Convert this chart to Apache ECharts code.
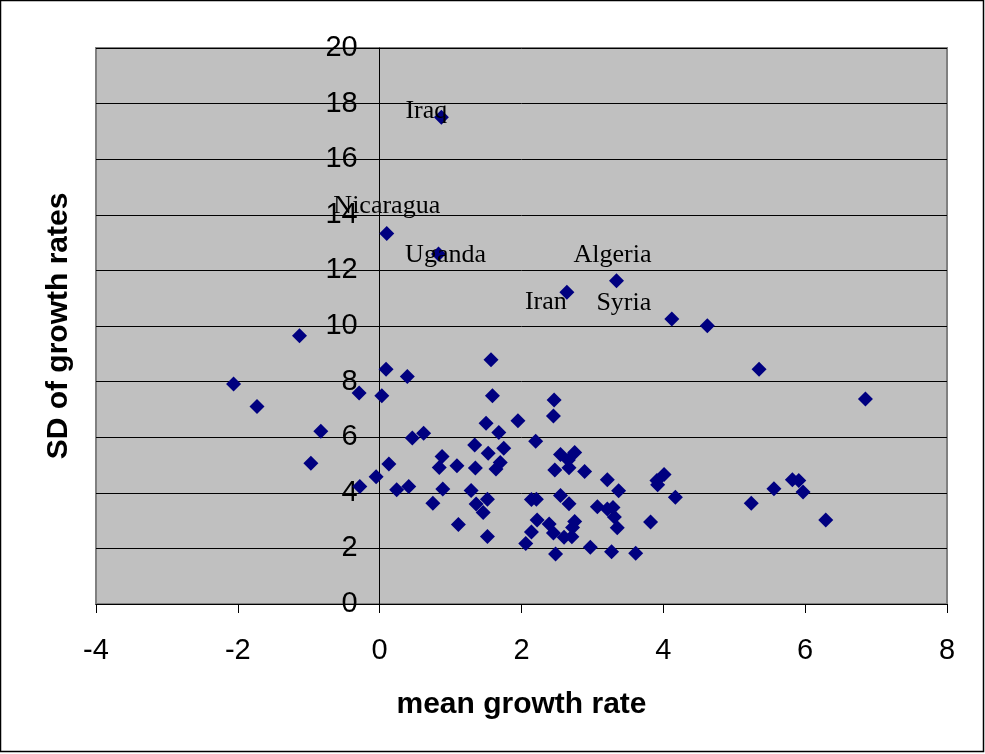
<!DOCTYPE html>
<html>
<head>
<meta charset="utf-8">
<script src="https://cdn.jsdelivr.net/npm/echarts@6/dist/echarts.min.js"></script>
<style>html,body{margin:0;padding:0;background:#fff}#c{width:985px;height:754px}</style>
</head>
<body>
<div id="c"></div>
<script>
// Data
const meanGrowth = [0.87,0.10,0.83,2.64,3.34,4.12,
 -2.06,-1.73,-1.13,-0.83,-0.97,-0.29,-0.28,-0.05,0.09,0.03,0.13,0.24,0.41,0.39,0.46,0.62,0.75,0.88,0.84,0.89,
 1.09,1.11,1.34,1.35,1.29,1.36,1.46,1.52,1.52,1.57,1.59,1.50,1.53,1.68,1.75,1.70,1.64,1.95,2.20,2.46,2.45,
 2.55,2.75,2.66,2.67,2.47,2.89,3.21,3.37,3.91,4.01,3.92,4.17,2.55,2.67,3.07,3.21,3.29,3.31,3.35,3.82,2.75,2.72,
 2.14,2.21,2.22,2.14,2.06,2.39,2.45,2.60,2.71,2.48,2.97,3.27,3.61,4.62,5.35,6.85,5.24,5.56,5.82,5.91,5.97,6.29];
const sdGrowth = [17.51,13.33,12.59,11.21,11.63,10.25,
 7.91,7.10,9.65,6.21,5.06,7.59,4.23,4.58,8.44,7.49,5.04,4.11,4.23,8.18,5.97,6.14,3.62,5.31,4.91,4.14,
 4.97,2.86,5.72,4.89,4.08,3.60,3.29,3.77,2.43,8.79,7.49,6.50,5.42,6.17,5.60,5.09,4.86,6.59,5.85,7.34,6.76,
 5.38,5.45,5.18,4.90,4.82,4.77,4.47,4.07,4.44,4.66,4.29,3.84,3.90,3.61,3.50,3.42,3.47,3.13,2.74,2.95,2.97,2.75,
 3.76,3.77,3.02,2.59,2.18,2.88,2.55,2.40,2.42,1.80,2.04,1.88,1.83,10.01,8.44,7.37,3.62,4.15,4.47,4.44,4.03,3.02];
const countryNames = ['Iraq','Nicaragua','Uganda','Iran','Algeria','Syria'];
const xTicks = {min:-4, max:8, interval:2};
const yTicks = {min:0, max:20, interval:2};

// layout (style)
const gridLeft = 96, gridRight = 38, W = 985;
const plotW = W - gridLeft - gridRight;
// y axis crosses x at 0: shift it from the grid's left edge to x = 0
const yAxisShift = -plotW * (0 - xTicks.min) / (xTicks.max - xTicks.min);

const labelOffsets = {Iraq:[-15,-6], Nicaragua:[0,-27], Uganda:[7,1], Iran:[-21,10], Algeria:[-4,-26], Syria:[-48,-16]};

const data = meanGrowth.map((x,i)=>{
  const nm = countryNames[i] || '';
  const item = {value:[x, sdGrowth[i]], name:nm};
  if (nm) item.label = {show:true, position:'inside', offset:labelOffsets[nm], formatter:'{b}',
    fontFamily:'Liberation Serif', fontSize:26, color:'#000'};
  return item;
});

const chart = echarts.init(document.getElementById('c'), null, {renderer:'canvas'});
chart.setOption({
  animation:false,
  backgroundColor:'#fff',
  grid:{left:gridLeft, right:gridRight, top:48, bottom:150, containLabel:false, outerBoundsMode:'none',
    show:true, backgroundColor:'#C0C0C0', borderColor:'#808080', borderWidth:2},
  xAxis:{type:'value', min:xTicks.min, max:xTicks.max, interval:xTicks.interval,
    name:'mean growth rate', nameLocation:'middle', nameGap:86,
    nameTextStyle:{fontFamily:'Liberation Sans', fontWeight:'bold', fontSize:30, color:'#000'},
    axisLine:{show:true, onZero:false, lineStyle:{color:'#000', width:1}},
    axisTick:{show:true, length:9, lineStyle:{color:'#000'}},
    axisLabel:{fontFamily:'Liberation Sans', fontSize:29, color:'#000', margin:32},
    splitLine:{show:false}},
  yAxis:{type:'value', min:yTicks.min, max:yTicks.max, interval:yTicks.interval,
    offset:yAxisShift,
    name:'SD of growth rates', nameLocation:'middle', nameGap:-yAxisShift + 22, nameRotate:90,
    nameTextStyle:{fontFamily:'Liberation Sans', fontWeight:'bold', fontSize:30, color:'#000'},
    axisLine:{show:true, onZero:false, lineStyle:{color:'#000', width:1}},
    axisTick:{show:true, length:8, lineStyle:{color:'#000'}},
    axisLabel:{fontFamily:'Liberation Sans', fontSize:29, color:'#000', margin:22},
    splitLine:{show:true, lineStyle:{color:'#000', width:1}}},
  series:[{type:'scatter', symbol:'diamond', symbolSize:15,
    itemStyle:{color:'#000080', opacity:1}, data:data, z:3}],
  graphic:[{type:'rect', shape:{x:0.5, y:0.5, width:983, height:751}, style:{fill:null, stroke:'#000', lineWidth:1.5}, silent:true}]
});
</script>
</body>
</html>
